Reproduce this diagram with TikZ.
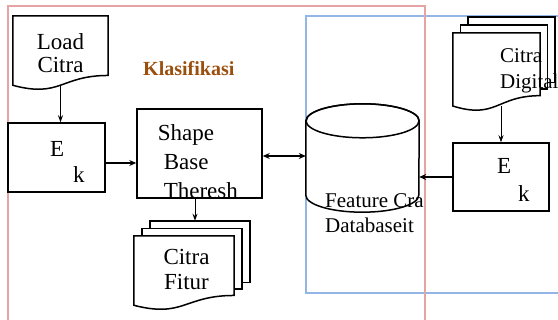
\documentclass[tikz,border=0pt]{standalone}
\usepackage{fontspec}
\setmainfont{Liberation Serif}
\usetikzlibrary{calc,arrows.meta}

\definecolor{garismerah}{HTML}{E6A3A3}
\definecolor{garisbiru}{HTML}{93B6E6}
\definecolor{judulcoklat}{HTML}{9B4F0F}

\newcommand{\dokumen}[1]{%
  \draw[kotak] (#1.north west) -- (#1.north east)
    -- ($(#1.north east)!0.802!(#1.south east)$)
    .. controls ($(#1.north)!0.802!(#1.south)$) and ($(#1.north)!1.107!(#1.south)$)
    .. ($(#1.north west)!0.934!(#1.south west)$) -- cycle;}

\begin{document}
\begin{tikzpicture}[x=1pt,y=-1pt,
  kotak/.style={draw, line width=1.5pt, fill=white},
  wadah/.style={inner sep=0pt, minimum width=#1},
  teks/.style={inner sep=0pt, font=\fontsize{23}{23}\selectfont},
  panah/.style={-{Stealth[length=7pt,width=5pt]}, line width=1pt},
  tebal/.style={-{Stealth[length=7pt,width=6pt]}, line width=2pt}]
\useasboundingbox (0,0) rectangle (558,320);

\draw[garisbiru, line width=1.5pt] (306,16) rectangle (575,293);
\draw[garismerah, line width=1.5pt] (8,6) rectangle (425,335);

\node[inner sep=0pt, anchor=base west, text=judulcoklat,
  font=\fontsize{20}{24}\selectfont\bfseries] (judul) at (143,76) {Klasifikasi};

\node[wadah=95pt, minimum height=74pt] (load) at (60.5,53) {};
\dokumen{load}
\node[teks, align=center] (loadtxt) at (load) {Load\\Citra};

\node[kotak, wadah=97pt, minimum height=69pt] (ek1) at (56.5,157.5) {};
\node[teks, anchor=base west, align=left, font=\fontsize{23}{26}\selectfont] (ek1txt) at (50,183) {E\\\hspace*{23pt}k};

\node[kotak, wadah=125pt, minimum height=89pt, path picture={
  \node[teks, draw=none, fill=none, minimum width=0pt, minimum height=0pt,
    anchor=base west, align=left, font=\fontsize{23}{29}\selectfont]
    at ($(path picture bounding box.north west)+(20pt,-90pt)$)
    {Shape\\\hspace*{6pt}Base\\\hspace*{6pt}Theresh};}] (shape) at (199.5,153.5) {};

\node[wadah=100pt, minimum height=74pt] (fitur) at (184,273) {};
\coordinate (fiturbelakang) at ($(fitur.north west)+(16,-15)$);
\foreach \i in {2,1} {
  \draw[kotak] ($(fitur.north west)+(8*\i,-7.5*\i)$) rectangle ($(fitur.north east)!0.802!(fitur.south east)+(8*\i,-6.5*\i)$);
}
\dokumen{fitur}
\node[teks, align=center, font=\fontsize{23}{25}\selectfont] (fiturtxt) at (186.5,270) {Citra\\Fitur};

\node[wadah=113pt, minimum height=74pt] (db) at (362.5,158) {};
\draw[kotak] (db.north west) -- (db.south west)
  arc[start angle=180, end angle=0, x radius=56.5, y radius=17] -- (db.north east)
  arc[start angle=0, end angle=-180, x radius=56.5, y radius=17] -- cycle;
\draw[line width=1.5pt] (db.north) ellipse[x radius=56.5, y radius=17];
\node[teks, anchor=base west, align=left, font=\fontsize{21}{25}\selectfont] (dbtxt) at (325,233) {Feature Cra\\Databaseit};

\node[wadah=87pt, minimum height=78pt] (digital) at (496.5,72) {};
\foreach \i in {2,1} {
  \draw[kotak] ($(digital.north west)+(7.5*\i,-8*\i)$) rectangle ($(digital.north east)!0.802!(digital.south east)+(7.5*\i,-6.5*\i)$);
}
\dokumen{digital}
\node[teks, anchor=base west, align=left, font=\fontsize{21}{26}\selectfont] (digitaltxt) at (500,89) {Citra\\Digital};

\node[kotak, wadah=96pt, minimum height=68pt] (ek2) at (501,177) {};
\node[teks, anchor=base west, align=left, font=\fontsize{23}{28}\selectfont] (ek2txt) at (497,202) {E\\\hspace*{21pt}k};

\coordinate (loadbawah) at ($(load.north)!0.933!(load.south)$);
\coordinate (digitalbawah) at ($(digital.north)!0.933!(digital.south)$);

\draw[panah] (loadbawah) -- (loadbawah |- ek1.north);
\draw[tebal] ([yshift=-5.5pt]ek1.east) -- ([yshift=-5.5pt]ek1.east -| shape.west);
\draw[tebal, {Stealth[length=7pt,width=6pt]}-{Stealth[length=7pt,width=6pt]}] ([yshift=-2.5pt]shape.east) -- ([yshift=-2.5pt]shape.east -| db.west);
\draw[panah] ([xshift=-4.5pt]shape.south) -- ([xshift=-4.5pt]shape.south |- fiturbelakang);
\draw[panah] (ek2.north |- digitalbawah) -- (ek2.north);
\draw[tebal] (ek2.west) -- (ek2.west -| db.east);
\end{tikzpicture}
\end{document}
